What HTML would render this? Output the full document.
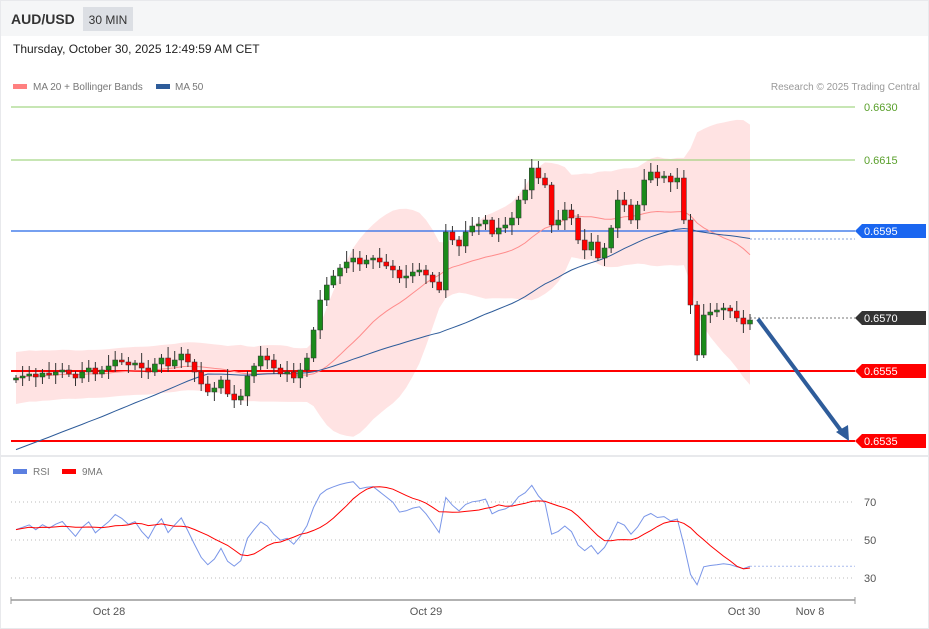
<!DOCTYPE html>
<html><head><meta charset="utf-8"><style>
body{margin:0;background:#fff;font-family:"Liberation Sans",sans-serif;}
#w{position:relative;width:929px;height:629px;overflow:hidden;background:#fff;}
</style></head><body><div id="w">
<svg id="s" width="929" height="629" xmlns="http://www.w3.org/2000/svg" font-family="Liberation Sans, sans-serif">
<rect x="0" y="0" width="929" height="36" fill="#f5f6f7"/>
<rect x="0" y="0" width="929" height="629" fill="none" stroke="#e8e9ec" stroke-width="2"/>
<text x="11" y="24" font-size="14" font-weight="bold" fill="#333">AUD/USD</text>
<rect x="83" y="7" width="50" height="24" fill="#dcdfe4"/>
<text x="108" y="24" font-size="12" fill="#333" text-anchor="middle">30 MIN</text>
<text x="13" y="53" font-size="12" fill="#222">Thursday, October 30, 2025 12:49:59 AM CET</text>
<rect x="13" y="84" width="14" height="5" fill="#ff8080"/>
<text x="33" y="90" font-size="10" fill="#777">MA 20 + Bollinger Bands</text>
<rect x="156" y="84" width="14" height="5" fill="#2e5c9a"/>
<text x="175" y="90" font-size="10" fill="#777">MA 50</text>
<text x="920" y="90" font-size="10" fill="#999" text-anchor="end">Research © 2025 Trading Central</text>
<g id="band"></g>
<line x1="11" y1="107" x2="855" y2="107" stroke="#8fcc6a" stroke-width="1"/>
<text x="864" y="111" font-size="11" fill="#5aa02c">0.6630</text>
<line x1="11" y1="160" x2="855" y2="160" stroke="#8fcc6a" stroke-width="1"/>
<text x="864" y="164" font-size="11" fill="#5aa02c">0.6615</text>
<line x1="11" y1="231" x2="855" y2="231" stroke="#2468e8" stroke-width="1.2"/>
<line x1="750" y1="239" x2="855" y2="239" stroke="#8aa6d8" stroke-dasharray="2,2"/>
<polygon points="855,231 862,224 926,224 926,238 862,238" fill="#1a66f0"/>
<text x="864" y="235" font-size="11" fill="#fff">0.6595</text>
<line x1="750" y1="318" x2="855" y2="318" stroke="#777" stroke-dasharray="2,2"/>
<polygon points="855,318 862,311 926,311 926,325 862,325" fill="#333"/>
<text x="864" y="322" font-size="11" fill="#fff">0.6570</text>
<line x1="11" y1="371" x2="855" y2="371" stroke="#f00" stroke-width="2"/>
<polygon points="855,371 862,364 926,364 926,378 862,378" fill="#f00"/>
<text x="864" y="375" font-size="11" fill="#fff">0.6555</text>
<line x1="11" y1="441" x2="855" y2="441" stroke="#f00" stroke-width="2"/>
<polygon points="855,441 862,434 926,434 926,448 862,448" fill="#f00"/>
<text x="864" y="445" font-size="11" fill="#fff">0.6535</text>
<g id="lines"></g>
<g id="candles"></g>
<line x1="758" y1="319" x2="842" y2="432" stroke="#2e5c9a" stroke-width="4"/>
<polygon points="849,441 836,432 848,425" fill="#2e5c9a"/>
<line x1="0" y1="456" x2="929" y2="456" stroke="#e8e9ec" stroke-width="2"/>
<rect x="13" y="469" width="14" height="5" fill="#5b7fe0"/>
<text x="33" y="475" font-size="10" fill="#777">RSI</text>
<rect x="62" y="469" width="14" height="5" fill="#f00"/>
<text x="82" y="475" font-size="10" fill="#777">9MA</text>
<line x1="11" y1="502" x2="855" y2="502" stroke="#bbb" stroke-dasharray="1,3"/>
<line x1="11" y1="540" x2="855" y2="540" stroke="#bbb" stroke-dasharray="1,3"/>
<line x1="11" y1="578" x2="855" y2="578" stroke="#bbb" stroke-dasharray="1,3"/>
<text x="864" y="506" font-size="11" fill="#555">70</text>
<text x="864" y="544" font-size="11" fill="#555">50</text>
<text x="864" y="582" font-size="11" fill="#555">30</text>
<g id="rsi"></g>
<line x1="11" y1="600" x2="855" y2="600" stroke="#999" stroke-width="1.5"/>
<line x1="11" y1="597" x2="11" y2="604" stroke="#999"/>
<line x1="855" y1="597" x2="855" y2="604" stroke="#999"/>
<text x="109" y="615" font-size="11" fill="#555" text-anchor="middle">Oct 28</text>
<text x="426" y="615" font-size="11" fill="#555" text-anchor="middle">Oct 29</text>
<text x="744" y="615" font-size="11" fill="#555" text-anchor="middle">Oct 30</text>
<text x="810" y="615" font-size="11" fill="#555" text-anchor="middle">Nov 8</text>
</svg>
</div>
<script>
var C=[378,376,374,377,373,375,372,370,374,378,372,368,374,
370,366,360,362,365,363,368,372,364,358,366,360,354,362,
372,384,392,388,380,394,400,396,
376,366,356,360,368,374,372,378,370,
358,330,300,285,276,
268,262,258,264,260,258,262,266,270,278,276,272,270,275,282,290,
232,240,246,232,226,224,220,234,228,225,
218,200,190,168,178,185,
225,220,210,218,240,250,242,258,248,
228,200,205,220,205,180,172,178,176,
182,178,220,305,355,315,312,310,308,311,318,324,320];
var H=[];for(var i=0;i<50;i++)H.push(i<30?500:380);
var A=H.concat(C),off=H.length,N=C.length;
function X(i){return 16+i*(734/(N-1));}
var ns="http://www.w3.org/2000/svg";
function el(p,t,a){var e=document.createElementNS(ns,t);for(var k in a)e.setAttribute(k,a[k]);document.getElementById(p).appendChild(e);return e;}
var up=[],lo=[],m20=[],m50=[];
for(var i=0;i<N;i++){var j=i+off,s=0;for(var k=j-19;k<=j;k++)s+=A[k];var m=s/20,v=0;for(var k=j-19;k<=j;k++)v+=(A[k]-m)*(A[k]-m);var sd=Math.sqrt(v/20);sd=Math.max(sd,12);
if(i<20){m=0;var n=0;for(var k=Math.max(off,j-19);k<=j;k++){m+=A[k];n++;}m/=n;sd=Math.max(13-(i*0.1),12);}
m20.push(m);up.push(m-2*sd);lo.push(m+2*sd);var s5=0;for(var k=j-49;k<=j;k++)s5+=A[k];m50.push(s5/50);}
var pts=[];for(var i=0;i<N;i++)pts.push(X(i)+","+up[i]);for(var i=N-1;i>=0;i--)pts.push(X(i)+","+lo[i]);
el("band","polygon",{points:pts.join(" "),fill:"#ffe3e3"});
function path(a){var d="";for(var i=0;i<a.length;i++)d+=(i?"L":"M")+X(i).toFixed(1)+","+a[i].toFixed(1);return d;}
el("lines","path",{d:path(m20),fill:"none",stroke:"#ff8c8c","stroke-width":1});
el("lines","path",{d:path(m50),fill:"none",stroke:"#2e5c9a","stroke-width":1});
for(var i=0;i<N;i++){var o=i?C[i-1]:380,c=C[i],x=X(i);var hi=Math.min(o,c)-(3+(i*7)%9),lw=Math.max(o,c)+(3+(i*5)%8);
el("candles","line",{x1:x,y1:hi,x2:x,y2:lw,stroke:"#333","stroke-width":1});
var bt=Math.min(o,c),bh=Math.max(Math.abs(o-c),2);
el("candles","rect",{x:x-2.5,y:bt,width:5,height:bh,fill:c<o?"#1a8a1a":"#f00",stroke:"#333","stroke-width":0.5});}
var g=3.2,l=2.6,r=[];
for(var i=0;i<N;i++){var d=i?C[i-1]-C[i]:0.5,gg=d>0?d:0,ll=d<0?-d:0;g=(g*13+gg)/14;l=(l*13+ll)/14;r.push(100-100/(1+g/l));}
var ry=r.map(function(v){return 540-(v-50)*1.9;});
var ma=[];for(var i=0;i<ry.length;i++){var s=0,n=0;for(var k=Math.max(0,i-8);k<=i;k++){s+=ry[k];n++;}ma.push(s/n);}
el("rsi","path",{d:path(ry),fill:"none",stroke:"#7a96e8","stroke-width":1});
el("rsi","path",{d:path(ma),fill:"none",stroke:"#f00","stroke-width":1});
el("rsi","line",{x1:750,y1:ry[N-1],x2:855,y2:ry[N-1],stroke:"#aabbee","stroke-dasharray":"2,2"});
</script></body></html>
